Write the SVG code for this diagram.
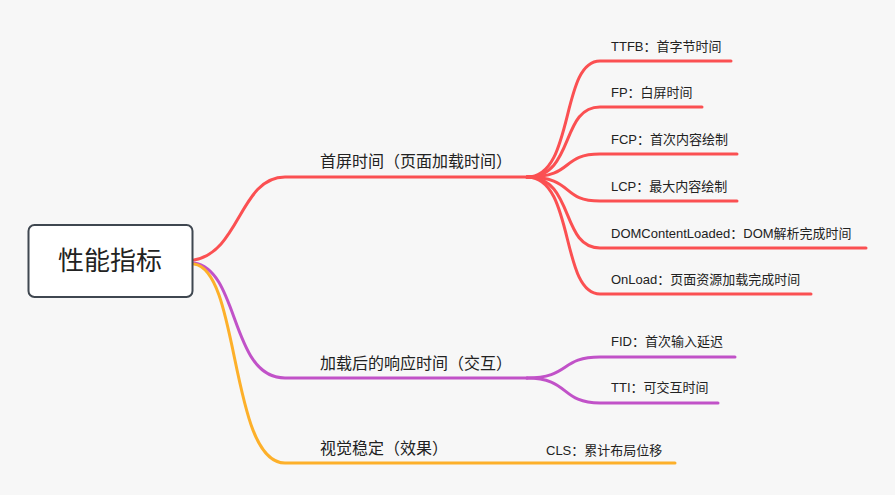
<svg xmlns="http://www.w3.org/2000/svg" width="895" height="495" viewBox="0 0 895 495">
<style>
.c{fill:none;stroke-width:3;stroke-linecap:round}
.r{stroke:#fb5052}.p{stroke:#c152c8}.o{stroke:#fdb02a}
text{font-family:"Liberation Sans","Noto Sans CJK SC",sans-serif;fill:#222}
.m{font-size:16px}.s{font-size:13px}
</style>
<rect width="895" height="495" fill="#f7f7f7"/>
<g id="connectors">
<path class="c r" d="M194,260 C240,252 240,177 285,177 L527,177"/>
<path class="c p" d="M194,263 C240,270 230,378 285,378 L527,378"/>
<path class="c o" d="M194,264 C240,270 230,463 285,463 L675,463"/>
<path class="c r" d="M527,177 C575,177 560,61 600,61 L731,61"/>
<path class="c r" d="M527,177 C575,177 560,107 600,107 L702,107"/>
<path class="c r" d="M527,177 C575,177 560,154 600,154 L737,154"/>
<path class="c r" d="M527,177 C575,177 560,201 600,201 L737,201"/>
<path class="c r" d="M527,177 C575,177 560,248 600,248 L866,248"/>
<path class="c r" d="M527,177 C575,177 560,294 600,294 L811,294"/>
<path class="c p" d="M527,378 C570,378 560,357 600,357 L735,357"/>
<path class="c p" d="M527,378 C570,378 560,403 600,403 L718,403"/>
</g>
<g id="root"><rect x="28.5" y="225" width="164" height="72" rx="6" fill="#fff" stroke="#3f4750" stroke-width="2"/>
<text x="110" y="270" font-size="26" text-anchor="middle" fill="#333">性能指标</text></g>
<g id="n1"><text class="m" x="320" y="167">首屏时间（页面加载时间）</text></g>
<g id="n2"><text class="m" x="320" y="369">加载后的响应时间（交互）</text></g>
<g id="n3"><text class="m" x="320" y="454">视觉稳定（效果）</text></g>
<g id="ttfb"><text class="s" x="611" y="51">TTFB：首字节时间</text></g>
<g id="fp"><text class="s" x="611" y="97">FP：白屏时间</text></g>
<g id="fcp"><text class="s" x="611" y="144">FCP：首次内容绘制</text></g>
<g id="lcp"><text class="s" x="611" y="191">LCP：最大内容绘制</text></g>
<g id="dcl"><text class="s" x="611" y="238">DOMContentLoaded：DOM解析完成时间</text></g>
<g id="onload"><text class="s" x="611" y="284">OnLoad：页面资源加载完成时间</text></g>
<g id="fid"><text class="s" x="611" y="346">FID：首次输入延迟</text></g>
<g id="tti"><text class="s" x="611" y="392">TTI：可交互时间</text></g>
<g id="cls"><text class="s" x="546" y="455">CLS：累计布局位移</text></g>
</svg>
